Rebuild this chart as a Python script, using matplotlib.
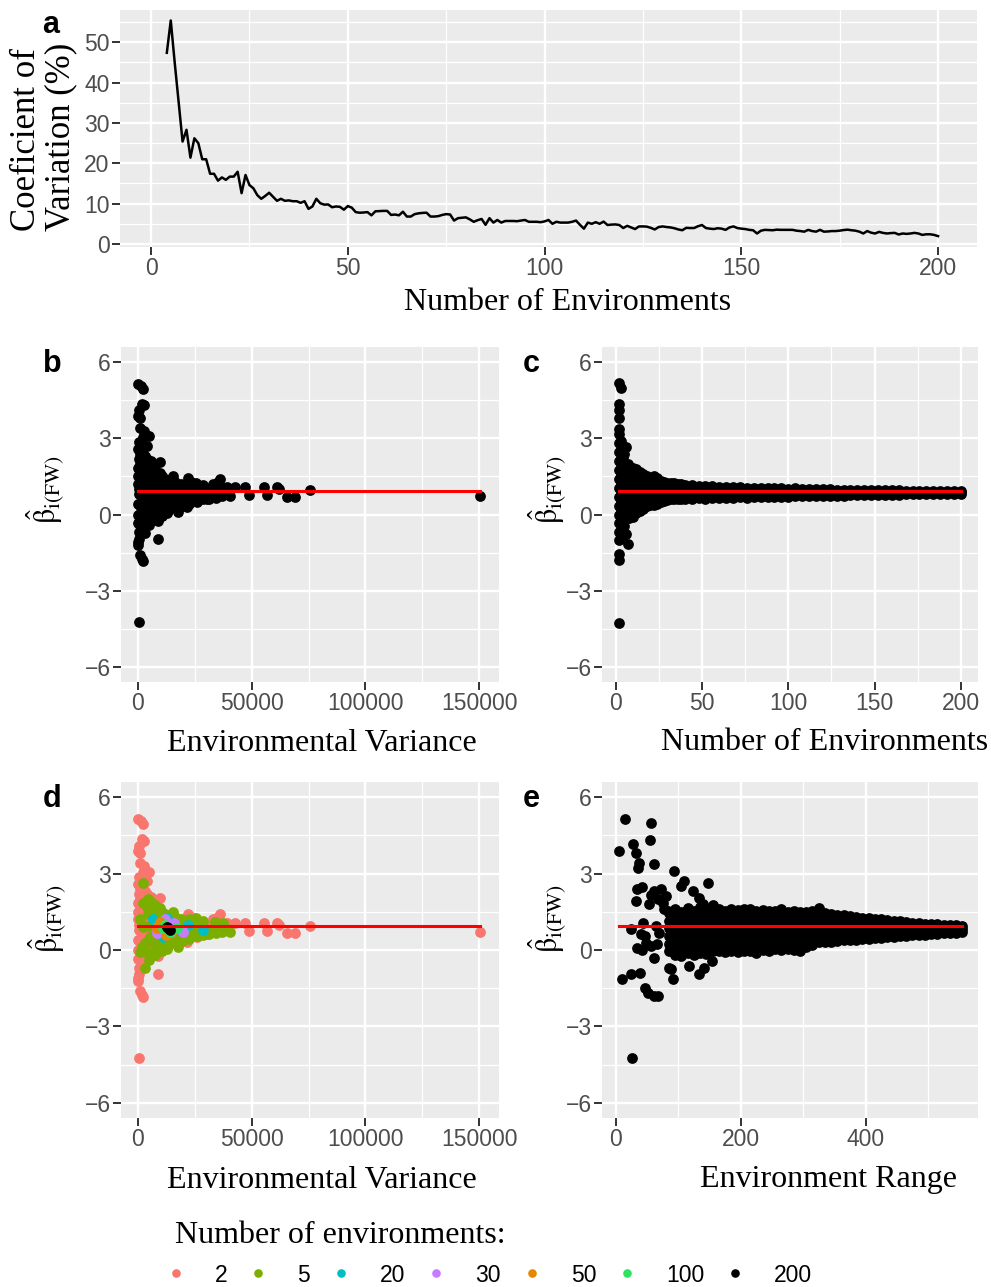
import matplotlib
matplotlib.use("Agg")
import matplotlib.pyplot as plt
from matplotlib.ticker import MultipleLocator

plt.rcParams['font.family'] = 'Liberation Sans'
plt.rcParams['mathtext.fontset'] = 'stix'
SERIF = 'Liberation Serif'

## panel a: coefficient of variation of beta vs number of environments
n_envs = list(range(4, 201))
cv_beta = [
    47.4, 55.4, 45.0, 35.2, 25.4, 28.3, 21.4, 26.2, 25.0, 21.0,
    21.0, 17.4, 17.4, 15.7, 16.5, 15.9, 16.7, 16.7, 17.9, 12.6,
    17.1, 14.6, 13.8, 12.1, 11.2, 11.9, 12.7, 11.7, 10.7, 11.2,
    10.7, 10.8, 10.6, 10.6, 10.2, 10.6, 8.7, 9.3, 11.2, 10.1,
    9.75, 9.8, 9.1, 9.3, 9.2, 8.5, 9.4, 9.0, 7.9, 7.75,
    7.8, 7.9, 7.1, 8.1, 8.15, 8.2, 8.2, 7.2, 7.3, 7.1,
    8.0, 6.8, 6.8, 7.4, 7.6, 7.7, 7.75, 6.8, 6.8, 6.9,
    7.2, 7.4, 7.3, 5.8, 6.4, 6.5, 6.6, 6.1, 5.5, 5.9,
    6.2, 4.75, 6.4, 5.3, 5.95, 5.3, 5.7, 5.7, 5.7, 5.65,
    5.8, 5.95, 5.5, 5.5, 5.5, 5.4, 5.6, 5.95, 5.0, 5.5,
    5.3, 5.3, 5.3, 5.5, 5.8, 4.75, 3.8, 5.3, 5.0, 5.4,
    5.0, 5.55, 4.7, 4.8, 4.85, 4.7, 3.95, 4.5, 4.1, 3.7,
    4.35, 4.35, 4.3, 4.0, 3.6, 4.2, 4.35, 4.2, 4.1, 3.9,
    3.6, 3.4, 4.0, 3.95, 3.95, 4.4, 4.7, 3.95, 3.8, 3.7,
    3.9, 3.8, 3.5, 4.1, 4.35, 3.95, 3.8, 3.7, 3.5, 3.4,
    2.6, 3.3, 3.5, 3.45, 3.4, 3.55, 3.5, 3.5, 3.5, 3.5,
    3.3, 3.2, 3.05, 3.5, 3.2, 3.05, 3.5, 3.05, 3.1, 3.2,
    3.2, 3.3, 3.45, 3.55, 3.4, 3.3, 3.05, 2.6, 3.2, 2.8,
    2.6, 3.0, 2.75, 2.6, 2.7, 2.75, 2.35, 2.6, 2.5, 2.6,
    2.75, 2.6, 2.25, 2.4, 2.4, 2.25, 1.95,
]

## panels b, d: (environmental variance, beta) by number of environments
pts_n2 = [
    (300, 5.16), (1500, 5.05), (2500, 4.95), (1800, 4.35), (2800, 4.3), (700, 4.1),
    (200, 3.9), (1200, 3.8), (1000, 3.4), (2900, 3.3), (5100, 3.08), (4200, 2.7),
    (0, 2.6), (1000, 2.4), (3200, 2.3), (500, 2.2), (4000, 2.2), (6000, 2.1), (9800, 2.05),
    (0, 1.85), (1500, 1.6), (200, 1.5), (8300, 1.45), (3000, 1.4), (0, 1.2), (5000, 1.1),
    (2000, 0.9), (600, 0.8), (8000, 1.0), (11500, 0.9), (14000, 1.1), (7500, 0.7), (4000, 0.6),
    (2000, 0.6), (10000, 0.6), (1200, 0.45), (0, 0.4), (13000, 0.4), (9500, 0.4), (6000, 0.3),
    (2200, 0.1), (300, 0.0), (6900, 0.05), (2500, -0.25), (9100, -0.25), (0, -0.35), (1000, -0.4),
    (1800, -0.6), (500, -0.7), (9100, -0.96), (300, -1.1), (0, -1.2), (1000, -1.6), (1800, -1.75),
    (2500, -1.85), (600, -4.25),
    (3500, 2.0), (2800, 1.75), (600, 1.0), (3600, 1.15), (1500, 0.25), (3800, -0.1),
    (3400, 0.85), (1200, 2.0), (3800, 1.6), (600, 2.85), (2200, 3.05), (500, -0.95),
    (16000, 0.7), (19000, 0.75), (15000, 0.45), (20000, 0.55), (21500, 0.3), (22200, 1.42),
    (23600, 1.3), (24000, 0.7), (26000, 1.15), (26000, 0.5), (28000, 0.75), (30300, 0.62),
    (31000, 1.0), (33200, 1.2), (35400, 1.3), (36300, 1.4), (39200, 1.07),
    (42900, 1.07), (47300, 1.07), (48700, 0.75), (55300, 1.07), (56800, 0.75), (61200, 1.07),
    (62200, 1.0), (65500, 0.67), (69200, 0.67), (75500, 0.95), (150400, 0.72),
]
pts_n5 = [
    (2200, 2.63), (6000, 1.9), (2500, 1.85), (4000, 1.7), (9800, 1.65), (15700, 1.5),
    (6500, 1.45), (12000, 1.4), (1000, 1.2), (9800, 1.2), (19000, 1.2), (27400, 1.05),
    (34000, 1.1), (4500, 0.95), (20000, 0.95), (2500, 0.9), (23000, 0.9), (28800, 0.9),
    (36900, 0.72), (40500, 0.72), (5400, 0.5), (21500, 0.5), (25900, 0.55), (18000, 0.45),
    (3200, 0.26), (8300, 0.25), (14200, 0.26), (1800, 0.13), (11000, 0.1), (7000, 0.0),
    (1000, -0.07), (12700, 0.05), (17800, 0.1), (4700, -0.13), (3200, -0.72),
    (4500, 2.0), (4500, 1.4), (4500, 0.35), (4800, -0.4),
    (7500, 1.75), (7500, 1.2), (7500, 0.45), (7500, -0.2),
    (10500, 1.5), (10500, 0.75), (10500, 0.35), (10500, -0.05),
    (13500, 1.3), (13500, 0.65), (13500, 0.15),
    (16500, 1.3), (16500, 1.0), (16500, 0.3),
    (19500, 1.0), (19500, 0.35),
    (22500, 1.2), (22500, 0.65), (22500, 0.42),
    (25500, 1.25), (25500, 0.8),
    (28500, 1.15), (28500, 0.6),
    (31500, 0.8), (31500, 0.62),
    (34500, 0.85), (34500, 0.65),
    (37500, 1.05), (37500, 0.9),
]
pts_n20 = [(6900, 1.2), (12700, 1.25), (15700, 0.9), (18600, 0.8), (28800, 0.8),
           (11300, 0.5), (8300, 0.9), (22000, 1.0)]
pts_n30 = [(8300, 0.92), (20000, 0.72), (8300, 0.65), (12000, 1.2), (16000, 1.05)]
pts_n50 = [(9800, 1.1), (15700, 0.8), (8600, 0.85), (12500, 0.6)]
pts_n100 = [(11300, 0.85), (17100, 0.85), (14000, 0.7), (12000, 1.0)]
pts_n200 = [(13500, 0.85), (14200, 0.8), (13000, 0.9)]

env_levels = ['2', '5', '20', '30', '50', '100', '200']
env_colors = ['#F8766D', '#7CAE00', '#00BFC4', '#C77CFF', '#E58700', '#2EE35F', '#000000']
env_groups = [pts_n2, pts_n5, pts_n20, pts_n30, pts_n50, pts_n100, pts_n200]

## panel c: beta vs number of environments
c_left = {
    2: [5.2, 4.35, 4.1, 3.8, 3.37, 3.18, 2.8, 2.45, 2.1, 1.75, 1.4, 1.05, 0.7, 0.35, 0.0,
        -0.35, -0.7, -1.0, -1.55, -1.8, -4.28],
    3: [5.0, 2.9, 2.55, 2.2, 1.85, 1.5, 1.15, 0.8, 0.45, 0.1, -0.25, -0.6, -0.9],
    4: [2.6, 2.25, 1.9, 1.55, 1.2, 0.85, 0.5, 0.15, -0.2, -0.55, -0.85],
    5: [2.4, 2.0, 1.65, 1.3, 0.95, 0.6, 0.25, -0.1, -0.45],
    6: [2.65, 1.95, 1.6, 1.25, 0.9, 0.55, 0.2, -0.15, -0.76],
    7: [2.0, 1.65, 1.3, 0.95, 0.6, 0.25, -0.1, -1.15],
    8: [1.9, 1.55, 1.2, 0.85, 0.5, 0.15, -0.15],
    9: [1.75, 1.4, 1.05, 0.7, 0.35, 0.0],
    10: [1.85, 1.5, 1.15, 0.8, 0.45, 0.1, -0.08],
    12: [1.78, 1.45, 1.1, 0.75, 0.4, 0.05],
    14: [1.68, 1.35, 1.0, 0.65, 0.3, 0.15],
    16: [1.6, 1.3, 0.98, 0.66, 0.35, 0.22],
    18: [1.5, 1.2, 0.9, 0.6, 0.33],
    20: [1.45, 1.15, 0.85, 0.55, 0.38],
    22: [1.5, 1.2, 0.9, 0.6, 0.36],
    24: [1.42, 1.12, 0.82, 0.52, 0.42],
    26: [1.33, 1.05, 0.78, 0.5],
    28: [1.28, 1.0, 0.75, 0.52],
    30: [1.26, 0.98, 0.72, 0.58],
    32: [1.25, 0.96, 0.7, 0.6],
    34: [1.24, 0.95, 0.68, 0.6],
    36: [1.22, 0.94, 0.66, 0.61],
    38: [1.2, 0.92, 0.64, 0.62],
}
c_band_n = [40, 44, 48, 52, 56, 60, 64, 68, 72, 76, 80, 84, 88, 92, 96, 100, 104, 108,
            112, 116, 120, 124, 128, 132, 136, 140, 144, 148, 152, 156, 160, 164, 168,
            172, 176, 180, 184, 188, 192, 196, 200]
c_band_top = [1.16, 1.15, 1.13, 1.12, 1.11, 1.10, 1.09, 1.10, 1.07, 1.06, 1.06, 1.05, 1.04,
              1.03, 1.03, 1.02, 1.03, 1.01, 1.00, 1.00, 0.99, 0.99, 0.98, 0.98, 0.97, 0.97,
              0.97, 0.96, 0.96, 0.95, 0.95, 0.95, 0.94, 0.94, 0.93, 0.93, 0.93, 0.92, 0.92,
              0.92, 0.91]
c_band_mid = [0.90, 0.88, 0.90, 0.88, 0.90, 0.88, 0.90, 0.89, 0.90, 0.88, 0.90, 0.89, 0.90,
              0.88, 0.90, 0.89, 0.90, 0.88, 0.90, 0.89, 0.90, 0.88, 0.90, 0.89, 0.90, 0.88,
              0.90, 0.89, 0.90, 0.88, 0.90, 0.89, 0.90, 0.88, 0.90, 0.89, 0.90, 0.88, 0.90,
              0.89, 0.88]
c_band_low = [0.63, 0.62, 0.64, 0.63, 0.65, 0.64, 0.66, 0.65, 0.67, 0.66, 0.68, 0.67, 0.69,
              0.68, 0.70, 0.70, 0.71, 0.71, 0.72, 0.72, 0.73, 0.72, 0.74, 0.74, 0.75, 0.75,
              0.76, 0.76, 0.77, 0.77, 0.78, 0.78, 0.79, 0.79, 0.80, 0.80, 0.81, 0.81, 0.82,
              0.82, 0.82]

## panel e: beta vs environment range
e_outliers = [
    (5.3, 3.89), (14.3, 5.16), (10.6, -1.15), (24.9, -0.96), (39.3, -0.89), (27.6, 4.15),
    (32.9, 3.8), (37.1, 3.43), (35.5, 3.23), (56.8, 5.0), (55.2, 4.32), (60.5, 3.36),
    (34.0, 2.38), (42.4, 2.49), (32.9, 1.92), (52.5, 1.79), (43.5, 1.07), (24.9, 0.81),
    (34.0, 0.09), (42.4, 0.0), (48.8, 0.29), (62.0, -0.3), (46.2, -1.48), (51.5, -1.68),
    (62.0, -1.8), (67.4, -1.8), (26.5, -4.23), (60.5, 2.32), (72.7, 2.38), (80.6, 2.12),
    (83.3, 1.53), (64.7, 0.94), (70.0, 0.68), (65.8, 0.22), (88.6, -0.76), (91.2, -1.15),
    (93.9, 3.1), (104.5, 2.51), (109.8, 2.71), (123.0, 2.32), (132.6, 2.05), (148.5, 2.62),
    (140.0, 1.79), (133.7, -0.96), (141.6, -0.69), (154.9, -0.43), (117.8, -0.63),
    (104.5, -0.23), (86.0, -0.69), (68.0, 2.0), (75.0, 1.85), (78.0, 1.6), (47.0, 0.55),
    (57.0, 2.15), (41.0, 0.61), (57.0, 0.16),
]
e_cols = {
    85: [1.45, 1.15, 0.85, 0.55, 0.25, -0.05],
    95: [1.6, 1.3, 1.0, 0.7, 0.4, 0.1, -0.2],
    105: [1.5, 1.2, 0.9, 0.6, 0.3, 0.0],
    115: [1.65, 1.35, 1.05, 0.75, 0.45, 0.15, -0.1],
    125: [1.55, 1.25, 0.95, 0.65, 0.35, 0.05, -0.2],
    135: [1.7, 1.4, 1.1, 0.8, 0.5, 0.2, -0.1],
    145: [1.6, 1.3, 1.0, 0.7, 0.4, 0.1, -0.15],
    155: [1.75, 1.45, 1.15, 0.85, 0.55, 0.25, -0.05],
    165: [1.6, 1.32, 1.05, 0.77, 0.5, 0.22, -0.05],
    175: [1.55, 1.28, 1.0, 0.72, 0.45, 0.18, -0.08],
    185: [1.62, 1.35, 1.07, 0.8, 0.52, 0.25, -0.02],
    195: [1.58, 1.3, 1.02, 0.75, 0.47, 0.2, -0.06],
    205: [1.6, 1.33, 1.05, 0.78, 0.5, 0.22, -0.05],
    215: [1.63, 1.36, 1.08, 0.8, 0.53, 0.25, -0.04],
    225: [1.55, 1.28, 1.0, 0.73, 0.46, 0.18, -0.1],
    235: [1.58, 1.3, 1.03, 0.75, 0.48, 0.2, 0.0],
    245: [1.52, 1.25, 0.98, 0.7, 0.43, 0.16, -0.02],
    255: [1.55, 1.28, 1.0, 0.73, 0.46, 0.19, 0.02],
    265: [1.6, 1.32, 1.04, 0.76, 0.48, 0.2, 0.0],
    275: [1.5, 1.23, 0.96, 0.7, 0.43, 0.17, 0.03],
    285: [1.53, 1.26, 0.99, 0.72, 0.45, 0.18, 0.0],
    295: [1.48, 1.22, 0.95, 0.68, 0.41, 0.14, -0.05],
    305: [1.5, 1.24, 0.98, 0.72, 0.46, 0.2, 0.1],
    315: [1.52, 1.25, 0.98, 0.71, 0.45, 0.2],
    325: [1.66, 1.4, 1.13, 0.86, 0.6, 0.32],
    335: [1.45, 1.2, 0.95, 0.7, 0.45, 0.3],
    345: [1.42, 1.17, 0.92, 0.67, 0.42, 0.33],
    355: [1.38, 1.13, 0.88, 0.63, 0.36],
    365: [1.36, 1.1, 0.85, 0.6, 0.38],
    375: [1.32, 1.08, 0.84, 0.6, 0.4],
    385: [1.3, 1.06, 0.82, 0.58, 0.41],
    395: [1.26, 1.02, 0.8, 0.58, 0.43],
    405: [1.25, 1.02, 0.8, 0.6, 0.44],
    415: [1.22, 0.99, 0.77, 0.55, 0.46],
    425: [1.2, 0.97, 0.75, 0.55, 0.48],
    435: [1.17, 0.95, 0.73, 0.5],
    445: [1.15, 0.93, 0.72, 0.52],
    455: [1.12, 0.91, 0.7, 0.54],
    465: [1.1, 0.9, 0.7, 0.56],
    475: [1.08, 0.88, 0.69, 0.57],
    485: [1.06, 0.86, 0.67, 0.59],
    495: [1.04, 0.85, 0.66, 0.6],
    505: [1.03, 0.84, 0.66, 0.61],
    515: [1.01, 0.82, 0.63],
    525: [1.0, 0.82, 0.65],
    535: [0.98, 0.81, 0.66],
    545: [0.97, 0.8, 0.68],
    555: [0.95, 0.82, 0.7],
}

beta_mean = 0.94

#### build point tables ####
bd_x = [p[0] for g in env_groups for p in g]
bd_y = [p[1] for g in env_groups for p in g]

c_x, c_y = [], []
for n, vals in c_left.items():
    c_x += [n] * len(vals)
    c_y += vals
for n, t, m, l in zip(c_band_n, c_band_top, c_band_mid, c_band_low):
    c_x += [n, n, n]
    c_y += [t, m, l]

e_x = [p[0] for p in e_outliers]
e_y = [p[1] for p in e_outliers]
for r, vals in e_cols.items():
    e_x += [r] * len(vals)
    e_y += vals

#### figure ####
W, H = 991, 1287
fig = plt.figure(figsize=(W / 100, H / 100), dpi=100)


def add_panel(l, r, t, b):
    return fig.add_axes([l / W, 1 - b / H, (r - l) / W, (b - t) / H])


def fpos(x, y):
    return x / W, 1 - y / H


def style(ax, xmaj, xmin, ymaj, ymin):
    ax.set_facecolor('#EBEBEB')
    for s in ax.spines.values():
        s.set_visible(False)
    ax.xaxis.set_major_locator(MultipleLocator(xmaj))
    ax.xaxis.set_minor_locator(MultipleLocator(xmin))
    ax.yaxis.set_major_locator(MultipleLocator(ymaj))
    ax.yaxis.set_minor_locator(MultipleLocator(ymin))
    ax.grid(which='major', color='white', lw=1.7)
    ax.grid(which='minor', color='white', lw=0.9)
    ax.set_axisbelow(True)
    ax.tick_params(which='major', length=5.5, width=1.4, color='#333333',
                   labelsize=16.5, labelcolor='#4D4D4D', pad=2)
    ax.tick_params(which='minor', length=0)


def set_xtitle(ax, text, x, y):
    ax.set_xlabel(text, family=SERIF, fontsize=23, color='black')
    ax.xaxis.set_label_coords(*fpos(x, y), transform=fig.transFigure)
    ax.xaxis.label.set_va('baseline')


def set_ytitle(ax, x, y):
    ax.set_ylabel(r'$\hat{\mathrm{\beta}}_{\mathrm{i(FW)}}$', fontsize=22, color='black')
    ax.yaxis.set_label_coords(*fpos(x, y), transform=fig.transFigure)
    ax.yaxis.label.set_va('center')


text_dct = {'letter': 22}

# a
ax_a = add_panel(120, 977, 10, 247)
style(ax_a, 50, 25, 10, 5)
ax_a.plot(n_envs, cv_beta, color='black', lw=1.8)
ax_a.set_xlim(-7.9, 209.9)
ax_a.set_ylim(-0.75, 58.0)
set_xtitle(ax_a, 'Number of Environments', 568, 310)
ax_a.set_ylabel('Coeficient of\nVariation (%)', family=SERIF, fontsize=25,
                linespacing=1.06, multialignment='left', color='black')
ax_a.yaxis.set_label_coords(*fpos(44, 137), transform=fig.transFigure)
ax_a.yaxis.label.set_va('center')

beta_ylim = (-6.6, 6.6)

# b
ax_b = add_panel(121, 499, 347, 682)
style(ax_b, 50000, 25000, 3, 1.5)
ax_b.scatter(bd_x, bd_y, s=60, color='black', linewidths=0, zorder=2)
ax_b.plot([min(bd_x), max(bd_x)], [beta_mean, beta_mean], color='red', lw=2.2, zorder=3)
ax_b.set_xlim(-7300, 158600)
ax_b.set_ylim(*beta_ylim)
set_xtitle(ax_b, 'Environmental Variance', 322, 751)
set_ytitle(ax_b, 45, 490)

# c
ax_c = add_panel(602, 978, 347, 682)
style(ax_c, 50, 25, 3, 1.5)
ax_c.scatter(c_x, c_y, s=60, color='black', linewidths=0, zorder=2)
ax_c.plot([min(c_x), max(c_x)], [beta_mean, beta_mean], color='red', lw=2.2, zorder=3)
ax_c.set_xlim(-7.9, 209.9)
ax_c.set_ylim(*beta_ylim)
set_xtitle(ax_c, 'Number of Environments', 825, 750)
set_ytitle(ax_c, 547, 490)

# d
ax_d = add_panel(121, 499, 782, 1118)
style(ax_d, 50000, 25000, 3, 1.5)
handles = []
for lev, col, grp in zip(env_levels, env_colors, env_groups):
    h = ax_d.scatter([p[0] for p in grp], [p[1] for p in grp], s=60, color=col,
                     linewidths=0, zorder=2, label=lev)
    handles.append(h)
ax_d.plot([min(bd_x), max(bd_x)], [beta_mean, beta_mean], color='red', lw=2.2, zorder=3)
ax_d.set_xlim(-7300, 158600)
ax_d.set_ylim(*beta_ylim)
set_xtitle(ax_d, 'Environmental Variance', 322, 1188)
set_ytitle(ax_d, 47, 919)

# e
ax_e = add_panel(602, 978, 782, 1118)
style(ax_e, 200, 100, 3, 1.5)
ax_e.scatter(e_x, e_y, s=60, color='black', linewidths=0, zorder=2)
ax_e.plot([min(e_x), max(e_x)], [beta_mean, beta_mean], color='red', lw=2.2, zorder=3)
ax_e.set_xlim(-22, 580)
ax_e.set_ylim(*beta_ylim)
set_xtitle(ax_e, 'Environment Range', 829, 1187)
set_ytitle(ax_e, 547, 919)

# panel letters
for letter, (x, y) in zip('abcde', [(42, 33), (43, 372), (523, 372), (43, 807), (523, 807)]):
    fig.text(*fpos(x, y), letter, fontsize=text_dct['letter'], fontweight='bold',
             ha='left', va='baseline')

# legend
fig.text(*fpos(175, 1243), 'Number of environments:', family=SERIF, fontsize=23,
         va='baseline')
fig.legend(handles=handles, labels=env_levels, loc='center left',
           bbox_to_anchor=fpos(164.5, 1275), ncol=7, frameon=False,
           handlelength=1.0, handletextpad=1.2, columnspacing=0.85,
           borderpad=0, borderaxespad=0, scatterpoints=1, scatteryoffsets=[0.5],
           markerscale=0.8, prop={'size': 16.5})

fig.savefig('out.png', dpi=100)
